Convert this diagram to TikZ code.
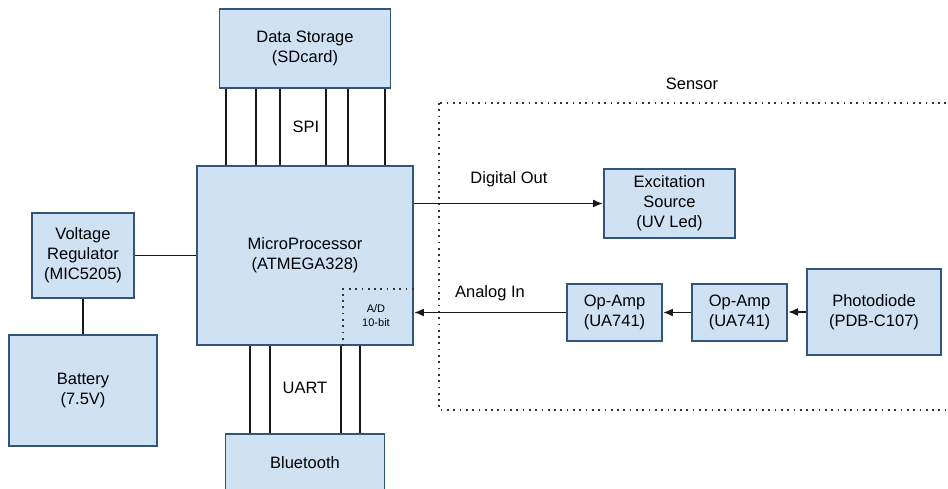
\documentclass[tikz,border=0pt]{standalone}
\usepackage{fontspec}
\setmainfont{Liberation Sans}
\usetikzlibrary{arrows.meta}
\definecolor{boxfill}{HTML}{CFE2F3}
\definecolor{boxline}{HTML}{34557A}
\begin{document}
\begin{tikzpicture}[x=1pt,y=-1pt,
  blk/.style={draw=boxline,fill=boxfill,line width=1.8pt,align=center,inner sep=0pt,
    font=\fontsize{16.5}{20}\selectfont},
  lbl/.style={font=\fontsize{16.5}{20}\selectfont,inner sep=0pt},
  wire/.style={line width=1.9pt,draw=black!90},
  arr/.style={wire,-{Latex[length=10pt,width=8pt]}},
  dots/.style={line width=1.7pt,dash pattern=on 1.7pt off 4.6pt,draw=black!80}]
\useasboundingbox (0,0) rectangle (948,489);

% blocks
\node[blk,minimum width=171pt,minimum height=79pt] (ds) at (305,48.5) {Data Storage\\(SDcard)};
\node[blk,minimum width=216pt,minimum height=179pt] (mcu) at (305,255.5) {MicroProcessor\\(ATMEGA328)};
\node[blk,minimum width=102pt,minimum height=85pt] (vr) at (83,255.5) {Voltage\\Regulator\\(MIC5205)};
\node[blk,minimum width=148pt,minimum height=111pt] (bat) at (83,390.5) {Battery\\(7.5V)};
\node[blk,minimum width=159pt,minimum height=58pt] (bt) at (305,463) {Bluetooth};
\node[blk,minimum width=131pt,minimum height=69pt] (exc) at (669.5,203.5) {Excitation\\Source\\(UV Led)};
\node[blk,minimum width=95pt,minimum height=57pt] (oa1) at (614.5,312.5) {Op-Amp\\(UA741)};
\node[blk,minimum width=95pt,minimum height=57pt] (oa2) at (739.5,312.5) {Op-Amp\\(UA741)};
\node[blk,minimum width=134pt,minimum height=86pt] (pd) at (874,312) {Photodiode\\(PDB-C107)};

% A/D converter region inside the microcontroller
\draw[dots] ([xshift=-71pt]mcu.south east) |- ([yshift=57pt]mcu.south east);
\node[font=\fontsize{11}{14}\selectfont,align=center,inner sep=0pt] (adc) at (376,316) {A/D\\10-bit};

% SPI bus
\foreach \dx in {-79,-49,-25,21,43,80}
  \draw[wire] ([xshift=\dx pt]ds.south) -- ([xshift=\dx pt]mcu.north);
\node[lbl] (spi) at (306,127) {SPI};

% UART bus
\foreach \dx in {-55,-35,36,55}
  \draw[wire] ([xshift=\dx pt]mcu.south) -- ([xshift=\dx pt]bt.north);
\node[lbl] (uart) at (305,388) {UART};

% power
\draw[wire] (vr.east) -- (vr.east -| mcu.west);
\draw[wire] (vr.south) -- (bat.north);

% sensor group
\draw[dots] (439,103) rectangle (962,410);
\node[lbl] (sensor) at (692,84) {Sensor};

% signals
\draw[arr] (mcu.east |- exc.west) -- (exc.west);
\node[lbl] (dout) at (509,179) {Digital Out};
\draw[arr] (oa1.west) -- (mcu.east |- oa1.west);
\node[lbl] (ain) at (490,293) {Analog In};
\draw[arr] (oa2.west) -- (oa1.east);
\draw[arr] (pd.west) -- (oa2.east |- pd.west);
\end{tikzpicture}
\end{document}
